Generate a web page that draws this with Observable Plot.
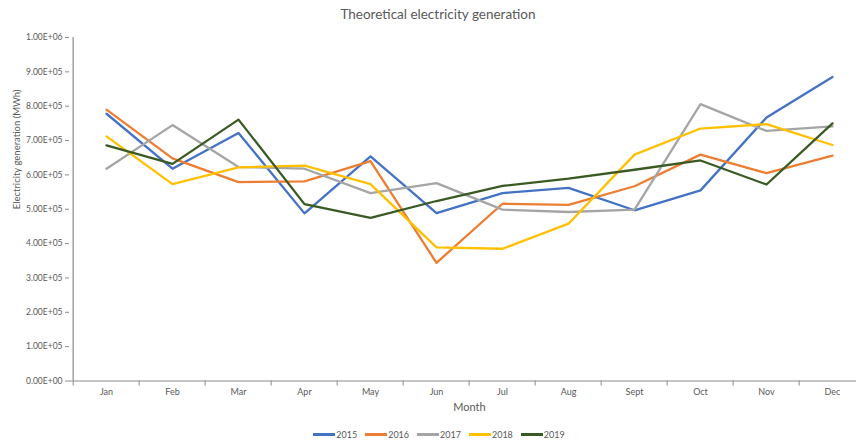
<!DOCTYPE html>
<html>
<head>
<meta charset="utf-8">
<script src="https://cdn.jsdelivr.net/npm/d3@7"></script>
<script src="https://cdn.jsdelivr.net/npm/@observablehq/plot@0.6"></script>
<style>
  html, body { margin: 0; padding: 0; background: #fff; }
  #chart { position: relative; width: 856px; height: 441px; overflow: hidden; font-family: Lato, "Open Sans", sans-serif; }
  #title { position: absolute; left: 0; width: 876px; top: 6px; text-align: center; font-size: 13.5px; color: #595959; }
  #legend { position: absolute; left: 0; width: 878px; top: 429px; display: flex; justify-content: center; gap: 8px; font-size: 9px; color: #595959; }
  #legend .item { display: flex; align-items: center; }
  #legend .swatch { display: inline-block; width: 22px; height: 3px; margin-right: 1px; }
  #chart svg { position: absolute; left: 0; top: 0; }
</style>
</head>
<body>
<div id="chart">
  <div id="title">Theoretical electricity generation</div>
  <div id="legend"></div>
</div>
<script>
// Monthly theoretical electricity generation (MWh), one array per year
const months = ["Jan", "Feb", "Mar", "Apr", "May", "Jun", "Jul", "Aug", "Sept", "Oct", "Nov", "Dec"];
const years = ["2015", "2016", "2017", "2018", "2019"];
const gen2015 = [778000, 618000, 722000, 488000, 654000, 489000, 547000, 562000, 497000, 555000, 767000, 885000];
const gen2016 = [790000, 648000, 579000, 581000, 640000, 344000, 516000, 513000, 567000, 659000, 605000, 656000];
const gen2017 = [618000, 745000, 623000, 618000, 547000, 576000, 499000, 492000, 499000, 806000, 728000, 741000];
const gen2018 = [712000, 573000, 622000, 627000, 573000, 389000, 385000, 458000, 659000, 735000, 748000, 687000];
const gen2019 = [686000, 632000, 761000, 515000, 475000, 524000, 568000, 589000, 615000, 642000, 572000, 750000];
const colors = ["#4472C4", "#ED7D31", "#A5A5A5", "#FFC000", "#3A5A24"];
const yTicks = [0, 100000, 200000, 300000, 400000, 500000, 600000, 700000, 800000, 900000, 1000000];

const series = [gen2015, gen2016, gen2017, gen2018, gen2019];
const data = years.flatMap((year, i) =>
  months.map((month, j) => ({year, month, value: series[i][j]}))
);

// Scientific notation like 1.00E+06
function sci(v) {
  if (v === 0) return "0.00E+00";
  const e = Math.floor(Math.log10(Math.abs(v)));
  const m = v / Math.pow(10, e);
  return m.toFixed(2) + "E" + (e < 0 ? "-" : "+") + String(Math.abs(e)).padStart(2, "0");
}

const W = 856, H = 441;
const left = 69, right = 869;       // plot area continues past the right edge
const step = (right - left) / months.length;
const axisColor = "#8C8C8C";
const textColor = "#595959";

const chart = Plot.plot({
  width: W,
  height: H,
  marginTop: 37,
  marginBottom: 60.5,
  marginLeft: left,
  marginRight: 0,
  style: {fontFamily: "Lato, 'Open Sans', sans-serif", background: "transparent", color: textColor, overflow: "visible"},
  x: {type: "point", domain: months, range: [left, right], padding: 0.5},
  y: {domain: [0, 1000000]},
  color: {domain: years, range: colors},
  marks: [
    // axis lines
    Plot.ruleY([0], {stroke: axisColor, strokeWidth: 1.2}),
    Plot.ruleX([months[0]], {y1: 0, y2: 1000000, dx: -step / 2, stroke: axisColor, strokeWidth: 1.2}),
    // y ticks and labels
    Plot.axisY({ticks: yTicks, tickFormat: sci, tickSize: 4, tickPadding: 3, stroke: axisColor, fill: textColor, fontSize: 8.5, label: null}),
    // x tick marks at category boundaries
    Plot.axisX({tickSize: 5, text: null, dx: -step / 2, stroke: axisColor, label: null}),
    // x labels at category centres
    Plot.axisX({tickSize: 0, tickPadding: 8, fill: textColor, fontSize: 9, label: null}),
    Plot.text(["Electricity generation (MWh)"], {frameAnchor: "left", rotate: -90, dx: -53, fill: textColor, fontSize: 9.5}),
    Plot.text(["Month"], {frameAnchor: "bottom", dx: (left + right) / 2 - (left + W) / 2, dy: 30, fill: textColor, fontSize: 11}),
    Plot.line(data, {x: "month", y: "value", z: "year", stroke: "year", strokeWidth: 2.3, strokeLinejoin: "round", strokeLinecap: "round"})
  ]
});
document.getElementById("chart").prepend(chart);

// legend below the plot
const legend = document.getElementById("legend");
years.forEach((year, i) => {
  const item = document.createElement("div");
  item.className = "item";
  const sw = document.createElement("span");
  sw.className = "swatch";
  sw.style.background = colors[i];
  const label = document.createElement("span");
  label.textContent = year;
  item.append(sw, label);
  legend.append(item);
});
</script>
</body>
</html>
